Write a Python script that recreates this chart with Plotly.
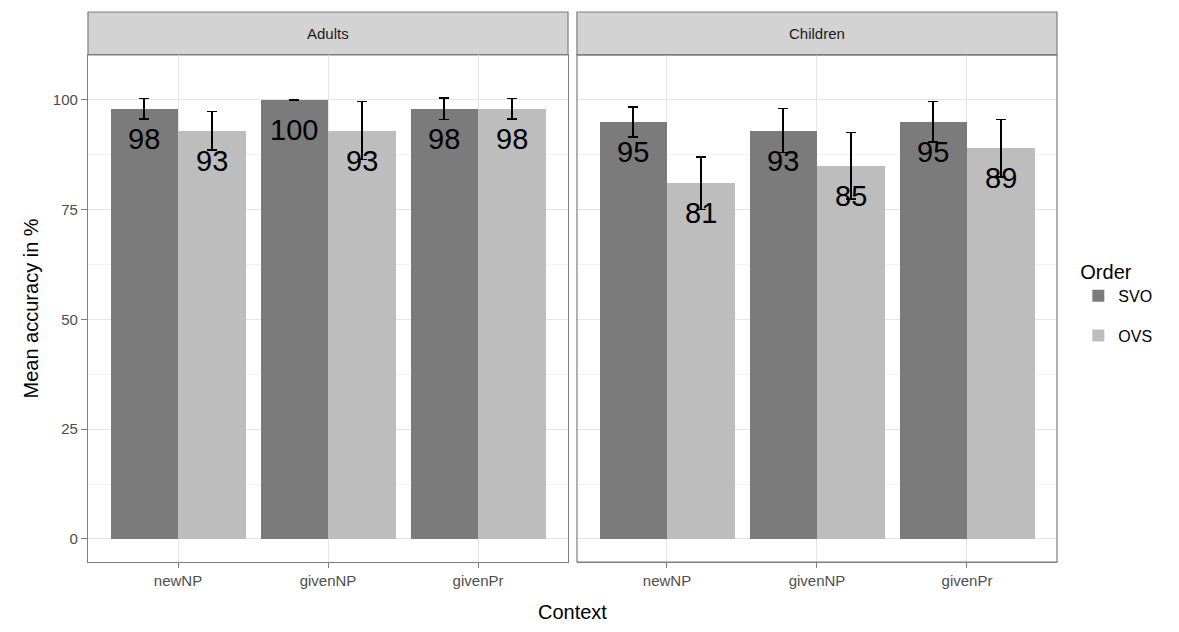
import plotly.graph_objects as go

contexts = ["newNP", "givenNP", "givenPr"]
groups = ["Adults", "Children"]
orders = ["SVO", "OVS"]

adults_svo = [98, 100, 98]
adults_ovs = [93, 93, 98]
children_svo = [95, 93, 95]
children_ovs = [81, 85, 89]

adults_svo_err = [2.3, 0.0, 2.5]
adults_ovs_err = [4.4, 6.6, 2.3]
children_svo_err = [3.4, 5.0, 4.6]
children_ovs_err = [6.0, 7.6, 6.5]

colors = {"SVO": "#7b7b7b", "OVS": "#bdbdbd"}
data = {
    ("Adults", "SVO"): (adults_svo, adults_svo_err),
    ("Adults", "OVS"): (adults_ovs, adults_ovs_err),
    ("Children", "SVO"): (children_svo, children_svo_err),
    ("Children", "OVS"): (children_ovs, children_ovs_err),
}

FONT = "Liberation Sans, Arial, sans-serif"
fig = go.Figure()
dodge = 0.9
bw = dodge / 2
offsets = {"SVO": -bw / 2, "OVS": bw / 2}
annotations = []

for gi, g in enumerate(groups):
    xa = "x" if gi == 0 else "x2"
    for o in orders:
        vals, errs = data[(g, o)]
        xs = [i + offsets[o] for i in range(len(contexts))]
        fig.add_trace(go.Bar(
            x=xs, y=vals, width=bw, name=o, xaxis=xa, yaxis="y",
            marker=dict(color=colors[o], line=dict(width=0)),
            showlegend=(gi == 0), legendgroup=o,
            error_y=dict(type="data", array=errs, color="black", thickness=1.6, width=5),
        ))
        for x, v in zip(xs, vals):
            annotations.append(dict(
                x=x, y=v, xref=xa, yref="y", text=str(v), showarrow=False,
                yanchor="middle", yshift=-30,
                font=dict(family=FONT, size=29, color="black"),
            ))

ytop = 0.922
shapes = []
for gi, g in enumerate(groups):
    x0, x1 = ([0, 0.4954], [0.5046, 1])[gi]
    shapes.append(dict(type="rect", xref="paper", yref="paper", x0=x0, x1=x1, y0=ytop, y1=1.0,
                       fillcolor="#d3d3d3", line=dict(color="#7f7f7f", width=1.2), layer="below"))
    annotations.append(dict(x=(x0 + x1) / 2, y=(ytop + 1) / 2, xref="paper", yref="paper",
                            xanchor="center", yanchor="middle",
                            text=g, showarrow=False,
                            font=dict(family=FONT, size=15, color="#1a1a1a")))

annotations.append(dict(x=0.5, y=-0.068, xref="paper", yref="paper", yanchor="top",
                        text="Context", showarrow=False,
                        font=dict(family=FONT, size=20, color="black")))

axis_common = dict(
    range=[-0.6, 2.6], tickvals=list(range(len(contexts))), ticktext=contexts,
    showgrid=True, gridcolor="#e5e5e5", gridwidth=1, zeroline=False,
    showline=True, mirror=True, linecolor="#7f7f7f", linewidth=1.2,
    ticks="outside", ticklen=5, tickcolor="#7f7f7f",
    tickfont=dict(family=FONT, size=15, color="#4d4d4d"),
    anchor="y",
)

fig.update_layout(
    width=1179, height=632,
    margin=dict(l=88, r=122, t=12, b=70),
    paper_bgcolor="white", plot_bgcolor="white",
    barmode="overlay", bargap=0,
    font=dict(family=FONT),
    xaxis=dict(domain=[0, 0.4954], **axis_common),
    xaxis2=dict(domain=[0.5046, 1], **axis_common),
    yaxis=dict(
        domain=[0, ytop], range=[-5.25, 110.25],
        tickvals=[0, 25, 50, 75, 100],
        showgrid=True, gridcolor="#e5e5e5", zeroline=False,
        minor=dict(tickvals=[12.5, 37.5, 62.5, 87.5], showgrid=True, gridcolor="#f2f2f2"),
        showline=True, mirror=True, linecolor="#7f7f7f", linewidth=1.2,
        ticks="outside", ticklen=6, tickcolor="#7f7f7f",
        tickfont=dict(family=FONT, size=15, color="#4d4d4d"),
        title=dict(text="Mean accuracy in %", font=dict(family=FONT, size=20, color="black"), standoff=8),
    ),
    legend=dict(
        x=1.022, y=0.562, xanchor="left", yanchor="top",
        title=dict(text="Order", font=dict(family=FONT, size=20, color="black")),
        font=dict(family=FONT, size=16, color="black"),
        traceorder="grouped", tracegroupgap=16, itemsizing="constant",
    ),
)
shapes.append(dict(type="rect", xref="x2 domain", yref="y domain", x0=0, x1=1, y0=0, y1=1,
                   line=dict(color="#7f7f7f", width=1.2), fillcolor="rgba(0,0,0,0)"))
fig.layout.shapes = shapes
fig.layout.annotations = annotations
fig.write_html("out.html", config={"displayModeBar": False},
               post_script="document.body.style.margin='0';document.body.style.overflow='hidden';")
